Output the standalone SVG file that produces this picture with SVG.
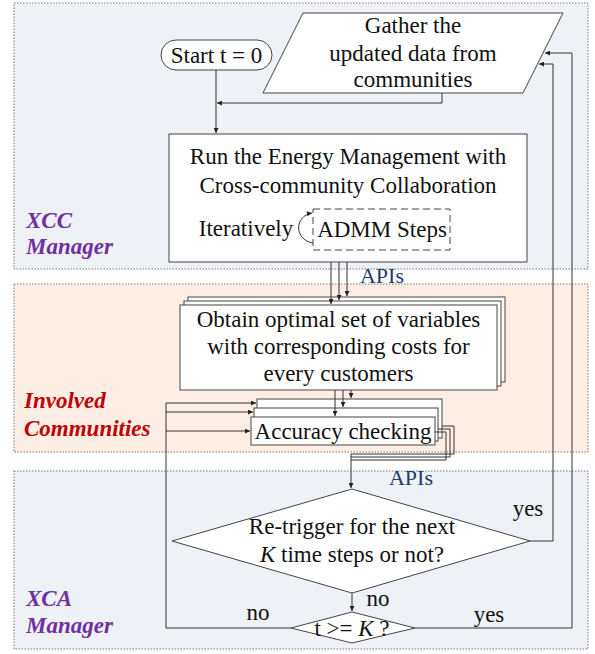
<svg xmlns="http://www.w3.org/2000/svg" width="595" height="654" viewBox="0 0 595 654">
<defs>
<marker id="arr" viewBox="0 0 10 10" refX="10" refY="5" markerWidth="6" markerHeight="5" markerUnits="userSpaceOnUse" orient="auto"><path d="M0,0 L10,5 L0,10 z" fill="#222"/></marker>
<style>
.region{stroke:#777;stroke-width:1;stroke-dasharray:1.5 1.5}
.node{fill:#fff;stroke:#444;stroke-width:1}
.t{font-family:"Liberation Serif","Times New Roman",serif;font-size:23px;fill:#111;text-anchor:middle}
.lbl{font-family:"Liberation Serif","Times New Roman",serif;font-size:23px;font-weight:bold;font-style:italic}
.api{font-family:"Liberation Serif","Times New Roman",serif;font-size:22px;fill:#1f3a6e}
.c{fill:none;stroke:#333;stroke-width:1}
</style>
</defs>
<rect width="595" height="654" fill="#fff"/>
<g id="regions">
<rect class="region" x="14" y="3" width="574" height="266" fill="#eef1f6"/>
<rect class="region" x="14" y="284" width="574" height="168" fill="#fdeee5"/>
<rect class="region" x="14" y="471" width="574" height="178" fill="#eef1f6"/>
<text class="lbl" x="26" y="228" fill="#7030a0">XCC</text>
<text class="lbl" x="26" y="254" fill="#7030a0">Manager</text>
<text class="lbl" x="24" y="408" fill="#c00000">Involved</text>
<text class="lbl" x="24" y="436" fill="#c00000">Communities</text>
<text class="lbl" x="26" y="606" fill="#7030a0">XCA</text>
<text class="lbl" x="26" y="633" fill="#7030a0">Manager</text>
</g>
<g id="start">
<rect class="node" x="161" y="40" width="111" height="30" rx="15"/>
<text class="t" x="216.5" y="63">Start t = 0</text>
</g>
<g id="gather">
<polygon class="node" points="303,13 563,13 523,93 263,93"/>
<text class="t" x="413" y="33">Gather the</text>
<text class="t" x="413" y="61">updated data from</text>
<text class="t" x="413" y="87">communities</text>
</g>
<g id="run">
<rect class="node" x="169" y="134" width="358" height="128"/>
<text class="t" x="348" y="164">Run the Energy Management with</text>
<text class="t" x="348" y="193">Cross-community Collaboration</text>
<text class="t" x="246" y="236">Iteratively</text>
<rect x="313" y="209" width="137" height="41" fill="none" stroke="#444" stroke-dasharray="7 4"/>
<text class="t" x="382" y="237">ADMM Steps</text>
<path class="c" d="M313 243 C294 240 294 216 312 213" marker-end="url(#arr)"/>
</g>
<g id="obtain">
<rect class="node" x="188" y="297" width="317" height="85"/>
<rect class="node" x="184" y="301" width="317" height="85"/>
<rect class="node" x="180" y="305" width="317" height="85"/>
<text class="t" x="338.5" y="327">Obtain optimal set of variables</text>
<text class="t" x="338.5" y="354">with corresponding costs for</text>
<text class="t" x="338.5" y="381">every customers</text>
</g>
<g id="accuracy">
<rect class="node" x="257" y="399" width="185" height="39"/>
<rect class="node" x="254" y="408" width="184" height="33"/>
<rect class="node" x="251" y="417" width="184" height="28"/>
<text class="t" x="343" y="439">Accuracy checking</text>
</g>
<g id="retrigger">
<polygon class="node" points="352,489 530,541 352,593 172,541"/>
<text class="t" x="352" y="534">Re-trigger for the next</text>
<text class="t" x="352" y="562"><tspan font-style="italic">K</tspan> time steps or not?</text>
</g>
<g id="tk">
<polygon class="node" points="352,612 415,628 352,643 291,628"/>
<text class="t" x="352" y="636">t &gt;= <tspan font-style="italic">K</tspan> ?</text>
</g>
<g id="connectors">
<path class="c" d="M216 70 V133" marker-end="url(#arr)"/>
<path class="c" d="M442 93 V103 H217" marker-end="url(#arr)"/>
<path class="c" d="M331 262 V304" marker-end="url(#arr)"/>
<path class="c" d="M339 262 V300" marker-end="url(#arr)"/>
<path class="c" d="M347 262 V296" marker-end="url(#arr)"/>
<path class="c" d="M335 390 V416" marker-end="url(#arr)"/>
<path class="c" d="M343 390 V407" marker-end="url(#arr)"/>
<path class="c" d="M351 390 V398" marker-end="url(#arr)"/>
<path class="c" d="M291 628 H166 V403 H256" marker-end="url(#arr)"/>
<path class="c" d="M166 412 H253" marker-end="url(#arr)"/>
<path class="c" d="M166 431 H250" marker-end="url(#arr)"/>
<path class="c" d="M435 432 H446 V460 H351"/>
<path class="c" d="M438 429 H450 V457 H351"/>
<path class="c" d="M442 426 H454 V454 H351"/>
<path class="c" d="M351 454 V488" marker-end="url(#arr)"/>
<path class="c" d="M530 541 H553 V64 H539" marker-end="url(#arr)"/>
<path class="c" d="M352 593 V611" marker-end="url(#arr)"/>
<path class="c" d="M415 628 H572 V53 H545" marker-end="url(#arr)"/>
<text class="api" x="382" y="283" text-anchor="middle">APIs</text>
<text class="api" x="411" y="485" text-anchor="middle">APIs</text>
<text class="t" x="528" y="516">yes</text>
<text class="t" x="489" y="622">yes</text>
<text class="t" x="378" y="606">no</text>
<text class="t" x="258" y="620">no</text>
</g>
</svg>
